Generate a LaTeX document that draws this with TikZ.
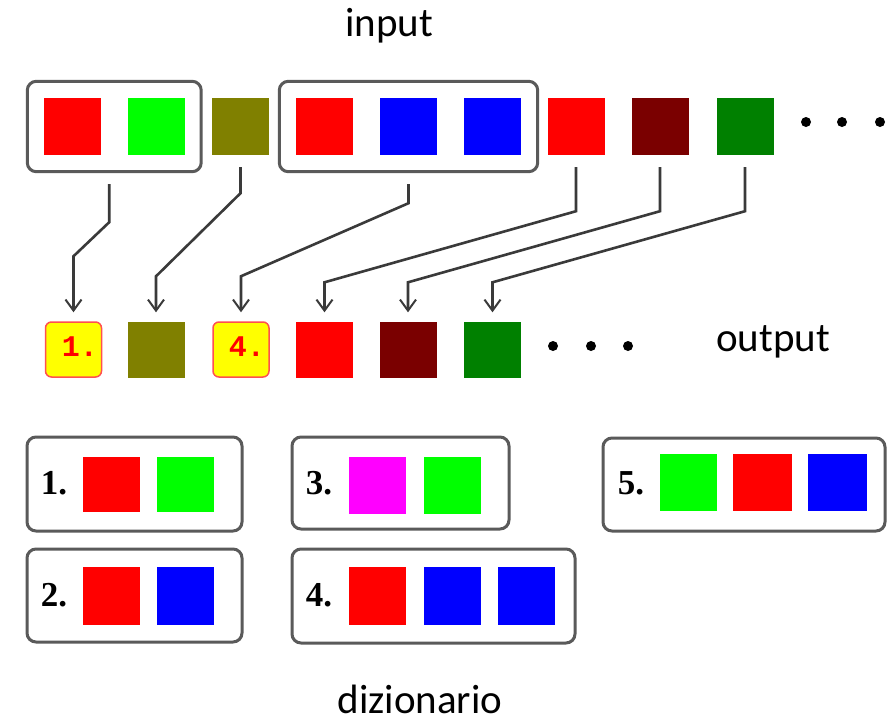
\documentclass[tikz,border=0pt]{standalone}
\usepackage{fontspec}
\usetikzlibrary{arrows.meta,calc,fit}
\newfontfamily\lblfont{Carlito}
\newfontfamily\numfont{Liberation Serif}
\newfontfamily\monofont{Liberation Mono}
\definecolor{cRed}{HTML}{FF0000}
\definecolor{cGreen}{HTML}{00FF00}
\definecolor{cOlive}{HTML}{808000}
\definecolor{cBlue}{HTML}{0000FF}
\definecolor{cMaroon}{HTML}{7A0000}
\definecolor{cDkGreen}{HTML}{008000}
\definecolor{cMagenta}{HTML}{FF00FF}
\definecolor{cYellow}{HTML}{FFFF00}
\definecolor{cBorder}{HTML}{5A5A5A}
\definecolor{cLine}{HTML}{3A3A3A}
\definecolor{cPink}{HTML}{FF5050}
\begin{document}
\begin{tikzpicture}[x=1pt,y=-1pt,
  sq/.style={minimum width=57pt,minimum height=57pt,inner sep=0pt,draw=none},
  grp/.style={draw=cBorder,line width=3pt,rounded corners=9pt,inner sep=16.5pt},
  dbox/.style={draw=cBorder,line width=3pt,rounded corners=9pt,inner sep=0pt},
  ybox/.style={fill=cYellow,draw=cPink,line width=1.5pt,rounded corners=6pt,minimum width=56pt,minimum height=55pt,inner sep=0pt},
  conn/.style={draw=cLine,line width=2.6pt,-{Straight Barb[length=11pt,width=16pt,line width=2pt]}},
  dot/.style={circle,fill=black,inner sep=0pt,minimum size=10pt},
  lbl/.style={font=\lblfont\fontsize{41}{48}\selectfont,inner sep=0pt},
  dnum/.style={font=\numfont\bfseries\fontsize{35}{40}\selectfont,inner sep=0pt},
  onum/.style={font=\monofont\bfseries\fontsize{30}{36}\selectfont,text=cRed,inner sep=0pt}]
\useasboundingbox (0,0) rectangle (887,724);
\fill[white] (0,0) rectangle (887,724);
% labels
\node[lbl] (tin) at (389,26) {input};
\node[lbl] (tout) at (773,342) {output};
\node[lbl] (tdic) at (420,699) {dizionario};
% input row
\node[sq,fill=cRed] (i1) at (72.5,126.5) {};
\node[sq,fill=cGreen] (i2) at (156,126.5) {};
\node[sq,fill=cOlive] (i3) at (240.5,126.5) {};
\node[sq,fill=cRed] (i4) at (324.5,126.5) {};
\node[sq,fill=cBlue] (i5) at (408,126.5) {};
\node[sq,fill=cBlue] (i6) at (492.5,126.5) {};
\node[sq,fill=cRed] (i7) at (576,126.5) {};
\node[sq,fill=cMaroon] (i8) at (660,126.5) {};
\node[sq,fill=cDkGreen] (i9) at (745,126.5) {};
\node[dot] (id1) at (806,122) {};
\node[dot] (id2) at (842,122) {};
\node[dot] (id3) at (880,122) {};
\node[grp,fit=(i1)(i2)] (g1) {};
\node[grp,fit=(i4)(i6)] (g2) {};
% output row
\node[ybox] (o1) at (73.5,349.5) {};
\node[onum] at (80,347) {1.};
\node[sq,fill=cOlive,minimum height=56pt] (o2) at (156,349.5) {};
\node[ybox] (o3) at (241,349.5) {};
\node[onum] at (247,347) {4.};
\node[sq,fill=cRed,minimum height=56pt] (o4) at (324.5,349.5) {};
\node[sq,fill=cMaroon,minimum height=56pt] (o5) at (408,349.5) {};
\node[sq,fill=cDkGreen,minimum height=56pt] (o6) at (492.5,349.5) {};
\node[dot] (od1) at (553,346) {};
\node[dot] (od2) at (591,346) {};
\node[dot] (od3) at (628,346) {};
% connectors
\draw[conn] ($(g1.south)+(-5,11)$) -- ++(0,38) -- ($(o1.north)+(0,-65)$) -- ($(o1.north)+(0,-9)$);
\draw[conn] ($(i3.south)+(0,12)$) -- ($(i3.south)+(0,38)$) -- ($(o2.north)+(0,-45)$) -- ($(o2.north)+(0,-9)$);
\draw[conn] ($(g2.south)+(0,11)$) -- ++(0,19) -- ($(o3.north)+(0,-45)$) -- ($(o3.north)+(0,-9)$);
\draw[conn] ($(i7.south)+(0,12)$) -- ($(i7.south)+(0,56)$) -- ($(o4.north)+(0,-39)$) -- ($(o4.north)+(0,-9)$);
\draw[conn] ($(i8.south)+(0,12)$) -- ($(i8.south)+(0,56)$) -- ($(o5.north)+(0,-39)$) -- ($(o5.north)+(0,-9)$);
\draw[conn] ($(i9.south)+(0,12)$) -- ($(i9.south)+(0,56)$) -- ($(o6.north)+(0,-39)$) -- ($(o6.north)+(0,-9)$);
% dictionary
\node[dbox,minimum width=215pt,minimum height=94pt] (d1) at (134.5,484) {};
\node[dnum] (n1) at (54,483) {1.};
\node[sq,fill=cRed,minimum height=55pt] (d1a) at (111,484) {};
\node[sq,fill=cGreen,minimum height=55pt] (d1b) at (185.5,484) {};
\node[dbox,minimum width=215pt,minimum height=93pt] (d2) at (134.5,595.5) {};
\node[dnum] (n2) at (54,595) {2.};
\node[sq,fill=cRed,minimum height=58pt] (d2a) at (111,596) {};
\node[sq,fill=cBlue,minimum height=58pt] (d2b) at (185.5,596) {};
\node[dbox,minimum width=217pt,minimum height=92pt] (d3) at (400.5,483) {};
\node[dnum] (n3) at (319,483) {3.};
\node[sq,fill=cMagenta] (d3a) at (377.5,485.5) {};
\node[sq,fill=cGreen] (d3b) at (452,485.5) {};
\node[dbox,minimum width=283pt,minimum height=94pt] (d4) at (433.5,596) {};
\node[dnum] (n4) at (319,595) {4.};
\node[sq,fill=cRed,minimum height=58pt] (d4a) at (377.5,596) {};
\node[sq,fill=cBlue,minimum height=58pt] (d4b) at (452,596) {};
\node[sq,fill=cBlue,minimum height=58pt] (d4c) at (526.5,596) {};
\node[dbox,minimum width=282pt,minimum height=93pt] (d5) at (744,484.5) {};
\node[dnum] (n5) at (631,483) {5.};
\node[sq,fill=cGreen] (d5a) at (688.5,482.5) {};
\node[sq,fill=cRed,minimum width=59pt] (d5b) at (762.5,482.5) {};
\node[sq,fill=cBlue,minimum width=59pt] (d5c) at (837.5,482.5) {};
\end{tikzpicture}
\end{document}
